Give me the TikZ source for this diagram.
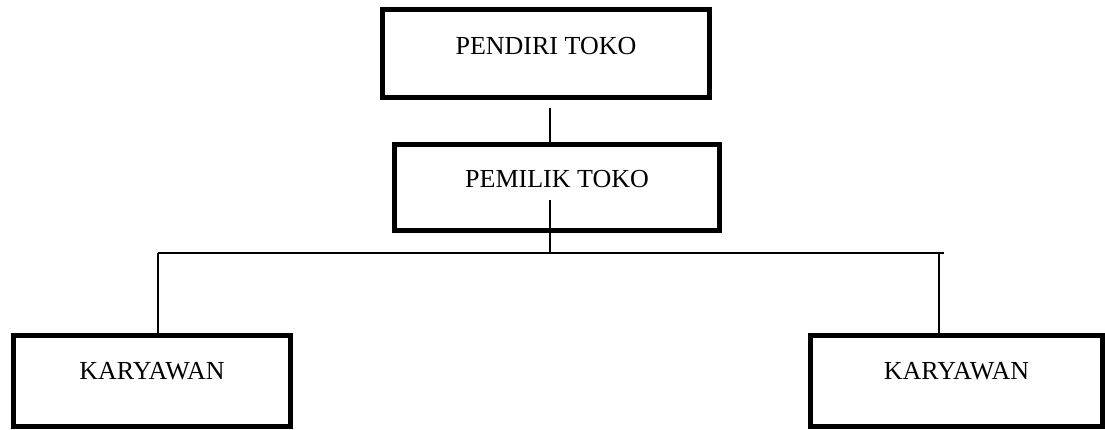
\documentclass[tikz,border=0pt]{standalone}
\usepackage{fontspec}
\setmainfont{Liberation Serif}
\begin{document}
\begin{tikzpicture}[x=1pt,y=-1pt,
  orgbox/.style={draw, line width=5pt, inner sep=0pt, outer sep=0pt, anchor=north,
    font=\fontsize{26}{30}\selectfont},
  link/.style={line width=1.5pt}]
\useasboundingbox (0,0) rectangle (1105,430);
\node[orgbox, minimum width=327pt, text height=45.5pt, text depth=42.5pt] (pendiri) at (546,9.5) {PENDIRI TOKO};
\node[orgbox, minimum width=325pt, text height=43.5pt, text depth=42.5pt] (pemilik) at (557,144.5) {PEMILIK TOKO};
\node[orgbox, minimum width=277.5pt, text height=43.5pt, text depth=47.5pt] (kar1) at (152,335.5) {KARYAWAN};
\node[orgbox, minimum width=292pt, text height=43.5pt, text depth=47.5pt] (kar2) at (956.5,335.5) {KARYAWAN};
\coordinate (t1) at (550,108);
\coordinate (t2) at (550,200);
\coordinate (bl) at (158,253);
\coordinate (br) at (944,253);
\coordinate (bm) at (939,253);
\draw[link] (t1) -- (t1 |- pemilik.north);
\draw[link] (t2) -- (t2 |- bl);
\draw[link] (bl) -- (br);
\draw[link] (bl) -- (bl |- kar1.north);
\draw[link] (bm) -- (bm |- kar2.north);
\end{tikzpicture}
\end{document}
